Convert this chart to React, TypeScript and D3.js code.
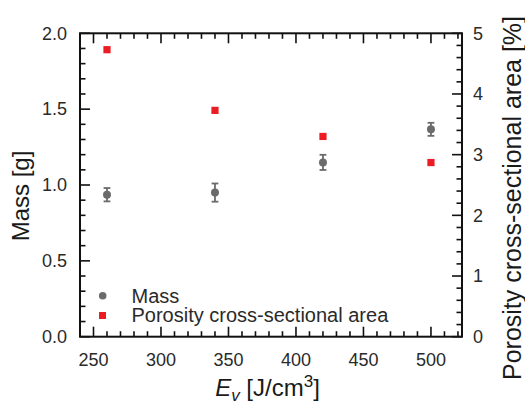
import React from "react";
import * as d3 from "d3";

// Volumetric energy density levels [J/cm^3]
const energy = [260, 340, 420, 500];
// Sample mass [g] and its standard deviation
const mass = [0.936, 0.95, 1.149, 1.367];
const massErr = [0.044, 0.06, 0.05, 0.043];
// Porosity cross-sectional area [%]
const porosity = [4.73, 3.73, 3.3, 2.87];

const xMajor = [250, 300, 350, 400, 450, 500];
const yLeftMajor = [0, 0.5, 1.0, 1.5, 2.0];
const yRightMajor = [0, 1, 2, 3, 4, 5];

const W = 525;
const H = 402;
const left = 80;
const right = 462;
const top = 33.3;
const bottom = 336.7;

const FONT = "'Liberation Sans', Arial, Helvetica, sans-serif";
const GRAY = "#6b6b6b";
const RED = "#ec1c24";

export default function App() {
  const x = d3.scaleLinear().domain([240, 523]).range([left, right]);
  const yL = d3.scaleLinear().domain([0, 2]).range([bottom, top]);
  const yR = d3.scaleLinear().domain([0, 5]).range([bottom, top]);

  const xMinor = d3.range(240, 521, 10).filter((v) => v % 50 !== 0);
  const yLMinor = d3.range(0, 2.001, 0.1).filter((v) => Math.abs(v * 2 - Math.round(v * 2)) > 1e-6);
  const yRMinor = d3.range(0, 5.001, 0.2).filter((v) => Math.abs(v - Math.round(v)) > 1e-6);

  const MAJ = 10;
  const MIN = 5.5;
  const tickStroke = { stroke: "#111", strokeWidth: 1.6 } as const;

  return (
    <svg
      width={W}
      height={H}
      style={{ position: "absolute", left: 0, top: 0, background: "#fff" }}
      fontFamily={FONT}
    >
      {/* bottom & top ticks */}
      {xMajor.map((v) => (
        <g key={"xm" + v}>
          <line x1={x(v)} x2={x(v)} y1={bottom} y2={bottom - MAJ} {...tickStroke} />
          <line x1={x(v)} x2={x(v)} y1={top} y2={top + MAJ} {...tickStroke} />
          <text x={x(v)} y={366} textAnchor="middle" fontSize={18} fill="#2a2a2a">
            {v}
          </text>
        </g>
      ))}
      {xMinor.map((v) => (
        <g key={"xn" + v}>
          <line x1={x(v)} x2={x(v)} y1={bottom} y2={bottom - MIN} {...tickStroke} />
          <line x1={x(v)} x2={x(v)} y1={top} y2={top + MIN} {...tickStroke} />
        </g>
      ))}

      {/* left axis ticks */}
      {yLeftMajor.map((v) => (
        <g key={"ylm" + v}>
          <line x1={left} x2={left + MAJ} y1={yL(v)} y2={yL(v)} {...tickStroke} />
          <text x={67} y={yL(v) + 6.3} textAnchor="end" fontSize={18} fill="#2a2a2a">
            {v.toFixed(1)}
          </text>
        </g>
      ))}
      {yLMinor.map((v) => (
        <line key={"yln" + v} x1={left} x2={left + MIN} y1={yL(v)} y2={yL(v)} {...tickStroke} />
      ))}

      {/* right axis ticks */}
      {yRightMajor.map((v) => (
        <g key={"yrm" + v}>
          <line x1={right} x2={right - MAJ} y1={yR(v)} y2={yR(v)} {...tickStroke} />
          <text x={473} y={yR(v) + 6.3} textAnchor="start" fontSize={18} fill="#2a2a2a">
            {v}
          </text>
        </g>
      ))}
      {yRMinor.map((v) => (
        <line key={"yrn" + v} x1={right} x2={right - MIN} y1={yR(v)} y2={yR(v)} {...tickStroke} />
      ))}

      {/* frame */}
      <rect x={left} y={top} width={right - left} height={bottom - top} fill="none" stroke="#111" strokeWidth={2} />

      {/* porosity markers */}
      {energy.map((e, i) => (
        <rect key={"p" + e} x={x(e) - 3.6} y={yR(porosity[i]) - 3.6} width={7.2} height={7.2} fill={RED} />
      ))}

      {/* mass markers with error bars */}
      {energy.map((e, i) => {
        const cx = x(e);
        const y0 = yL(mass[i] - massErr[i]);
        const y1 = yL(mass[i] + massErr[i]);
        return (
          <g key={"m" + e} stroke={GRAY} strokeWidth={1.8}>
            <line x1={cx} x2={cx} y1={y0} y2={y1} />
            <line x1={cx - 3.4} x2={cx + 3.4} y1={y0} y2={y0} />
            <line x1={cx - 3.4} x2={cx + 3.4} y1={y1} y2={y1} />
            <circle cx={cx} cy={yL(mass[i])} r={4} fill={GRAY} stroke="none" />
          </g>
        );
      })}

      {/* legend */}
      <circle cx={102.7} cy={295.7} r={3.8} fill={GRAY} />
      <text x={131.5} y={302.8} fontSize={20} fill="#2a2a2a">Mass</text>
      <rect x={99} y={312} width={7} height={7} fill={RED} />
      <text x={131.5} y={322.4} fontSize={20} fill="#2a2a2a">Porosity cross-sectional area</text>

      {/* axis titles */}
      <text
        transform="translate(29,196) rotate(-90)"
        textAnchor="middle"
        fontSize={24}
        fill="#1a1a1a"
      >
        Mass [g]
      </text>
      <text
        transform="translate(521,198) rotate(-90)"
        textAnchor="middle"
        fontSize={25}
        fill="#1a1a1a"
      >
        Porosity cross-sectional area [%]
      </text>
      <text x={267.5} y={396} textAnchor="middle" fontSize={24} fill="#1a1a1a">
        <tspan fontStyle="italic">E</tspan>
        <tspan fontStyle="italic" fontSize={17} dy={5}>v</tspan>
        <tspan dy={-5}> [J/cm</tspan>
        <tspan fontSize={17} dy={-9}>3</tspan>
        <tspan dy={9}>]</tspan>
      </text>
    </svg>
  );
}
